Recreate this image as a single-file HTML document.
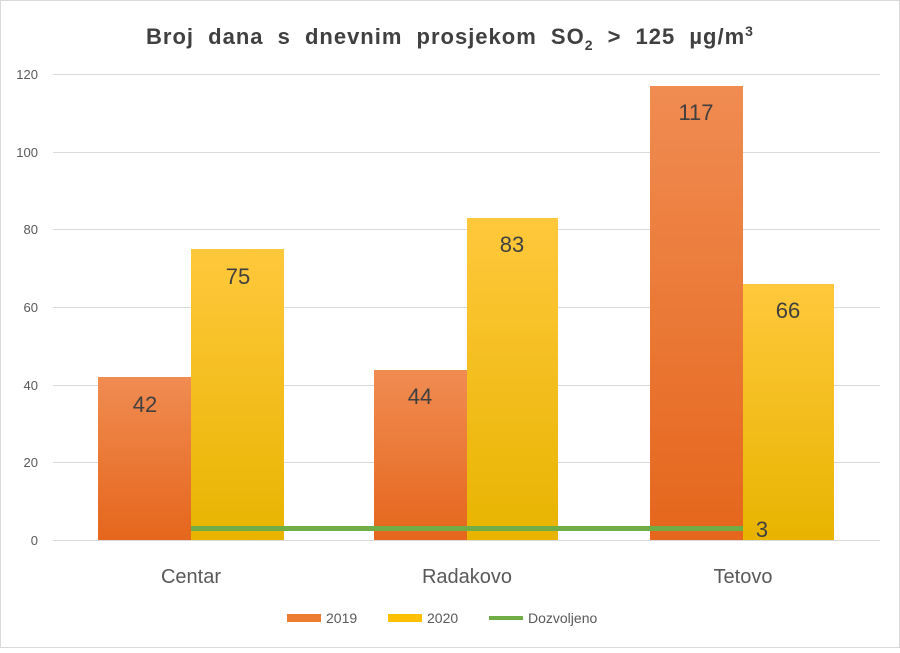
<!DOCTYPE html>
<html><head><meta charset="utf-8"><style>body{margin:0;background:#fff}</style></head><body>
<svg width="900" height="648" xmlns="http://www.w3.org/2000/svg" font-family="Liberation Sans, sans-serif">
<defs>
<linearGradient id="o" x1="0" y1="0" x2="0" y2="1"><stop offset="0" stop-color="#f08c52"/><stop offset="1" stop-color="#e5661c"/></linearGradient>
<linearGradient id="y" x1="0" y1="0" x2="0" y2="1"><stop offset="0" stop-color="#ffc83c"/><stop offset="1" stop-color="#e8b400"/></linearGradient>
</defs>
<rect x="0.5" y="0.5" width="899" height="647" fill="#fff" stroke="#d9d9d9"/>
<text x="450" y="44" text-anchor="middle" font-size="22" font-weight="bold" fill="#404040" letter-spacing="1" word-spacing="7">Broj dana s dnevnim prosjekom SO<tspan font-size="14" dy="6">2</tspan><tspan dy="-6"> &gt; 125 µg/m</tspan><tspan font-size="14" dy="-8">3</tspan></text>
<g stroke="#d9d9d9" stroke-width="1">
<line x1="53" x2="880" y1="74.5" y2="74.5"/><line x1="53" x2="880" y1="152.5" y2="152.5"/><line x1="53" x2="880" y1="229.5" y2="229.5"/><line x1="53" x2="880" y1="307.5" y2="307.5"/><line x1="53" x2="880" y1="385.5" y2="385.5"/><line x1="53" x2="880" y1="462.5" y2="462.5"/><line x1="53" x2="880" y1="540.5" y2="540.5"/>
</g>
<g font-size="13" fill="#595959" text-anchor="end">
<text x="38" y="79">120</text><text x="38" y="157">100</text><text x="38" y="234">80</text><text x="38" y="312">60</text><text x="38" y="390">40</text><text x="38" y="467">20</text><text x="38" y="545">0</text>
</g>
<rect x="98" y="377" width="93" height="163" fill="url(#o)"/>
<rect x="191" y="249" width="93" height="291" fill="url(#y)"/>
<rect x="374" y="370" width="93" height="170" fill="url(#o)"/>
<rect x="467" y="218" width="91" height="322" fill="url(#y)"/>
<rect x="650" y="86" width="93" height="454" fill="url(#o)"/>
<rect x="743" y="284" width="91" height="256" fill="url(#y)"/>
<line x1="191" x2="743" y1="528.5" y2="528.5" stroke="#70ad47" stroke-width="5"/>
<g font-size="22" fill="#404040" text-anchor="middle">
<text x="145" y="412">42</text><text x="238" y="284">75</text>
<text x="420" y="404">44</text><text x="512" y="252">83</text>
<text x="696" y="120">117</text><text x="788" y="318">66</text>
<text x="762" y="537">3</text>
</g>
<g font-size="20" fill="#595959" text-anchor="middle">
<text x="191" y="583">Centar</text><text x="467" y="583">Radakovo</text><text x="743" y="583">Tetovo</text>
</g>
<g font-size="14" fill="#595959">
<rect x="287" y="614" width="34" height="8" fill="#ed7d31"/><text x="326" y="623">2019</text>
<rect x="388" y="614" width="34" height="8" fill="#ffc000"/><text x="427" y="623">2020</text>
<line x1="489" x2="523" y1="618" y2="618" stroke="#70ad47" stroke-width="4"/><text x="528" y="623">Dozvoljeno</text>
</g>
</svg>
</body></html>
